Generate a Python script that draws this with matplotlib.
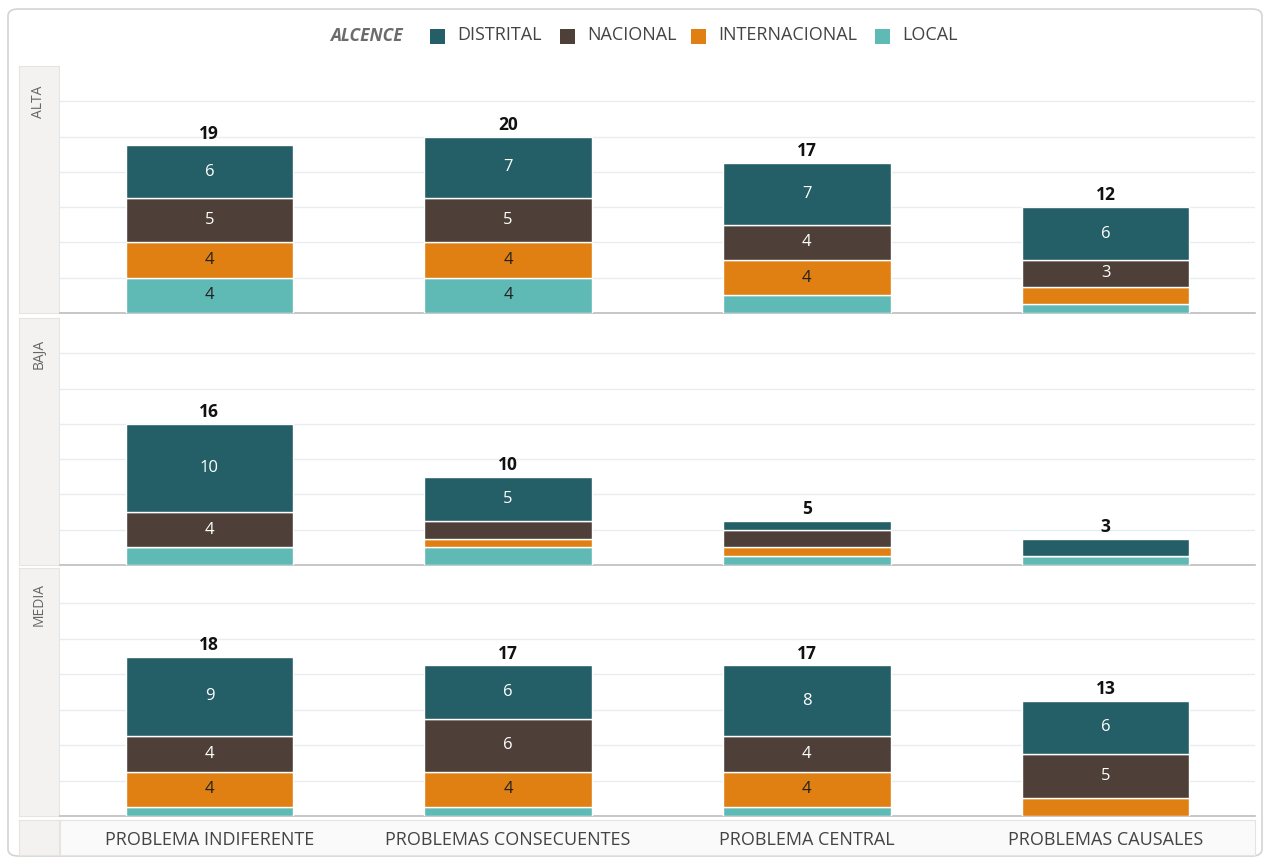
import matplotlib
matplotlib.use("Agg")
import matplotlib.pyplot as plt
from matplotlib.patches import FancyBboxPatch, Rectangle
import numpy as np

plt.rcParams['font.family'] = ['Open Sans', 'DejaVu Sans']

categories = ["PROBLEMA INDIFERENTE", "PROBLEMAS CONSECUENTES", "PROBLEMA CENTRAL", "PROBLEMAS CAUSALES"]
panels = ["ALTA", "BAJA", "MEDIA"]
series = ["LOCAL", "INTERNACIONAL", "NACIONAL", "DISTRITAL"]  # bottom to top
legend_order = ["DISTRITAL", "NACIONAL", "INTERNACIONAL", "LOCAL"]
colors = {"DISTRITAL": "#245e66", "NACIONAL": "#4e4038", "INTERNACIONAL": "#e07f12", "LOCAL": "#5fb9b5"}
label_colors = {"DISTRITAL": "white", "NACIONAL": "white", "INTERNACIONAL": "#222222", "LOCAL": "#222222"}

alta_local = [4, 4, 2, 1]
alta_internacional = [4, 4, 4, 2]
alta_nacional = [5, 5, 4, 3]
alta_distrital = [6, 7, 7, 6]

baja_local = [2, 2, 1, 1]
baja_internacional = [0, 1, 1, 0]
baja_nacional = [4, 2, 2, 0]
baja_distrital = [10, 5, 1, 2]

media_local = [1, 1, 1, 0]
media_internacional = [4, 4, 4, 2]
media_nacional = [4, 6, 4, 5]
media_distrital = [9, 6, 8, 6]

data = {
    "ALTA": {"LOCAL": alta_local, "INTERNACIONAL": alta_internacional, "NACIONAL": alta_nacional, "DISTRITAL": alta_distrital},
    "BAJA": {"LOCAL": baja_local, "INTERNACIONAL": baja_internacional, "NACIONAL": baja_nacional, "DISTRITAL": baja_distrital},
    "MEDIA": {"LOCAL": media_local, "INTERNACIONAL": media_internacional, "NACIONAL": media_nacional, "DISTRITAL": media_distrital},
}

W, H = 1265, 858
fig = plt.figure(figsize=(W / 100, H / 100), dpi=100, facecolor="white")

def fx(px):
    return px / W

def fy(py):
    return 1 - py / H

# outer rounded frame
frame = FancyBboxPatch((fx(8), fy(856)), fx(1262) - fx(8), fy(9) - fy(856),
                       boxstyle="round,pad=0,rounding_size=0.008", transform=fig.transFigure,
                       facecolor="none", edgecolor="#d6d4d2", linewidth=1.2, zorder=-10)
fig.patches.append(frame)

# legend
fig.text(fx(403), fy(36), "ALCENCE", ha="right", va="center", fontsize=12.5, fontweight="bold",
         fontstyle="italic", color="#6b6b6b")
legend_x = [430, 560, 691, 875]
for name, x0 in zip(legend_order, legend_x):
    fig.patches.append(Rectangle((fx(x0), fy(44)), fx(15), fy(29) - fy(44), transform=fig.transFigure,
                                 facecolor=colors[name], edgecolor="none"))
    fig.text(fx(x0 + 27), fy(35), name, ha="left", va="center", fontsize=13, color="#444444")

panel_rows = [(66, 313), (318, 565), (568, 816)]
plot_left, plot_right = 60, 1255
x = np.arange(len(categories))
bar_w = 0.56
ymax = 28

for pname, (top, bot) in zip(panels, panel_rows):
    # strip
    sax = fig.add_axes([fx(19), fy(bot), fx(59) - fx(19), fy(top) - fy(bot)])
    sax.set_facecolor("#f3f2f1")
    sax.set_xticks([]); sax.set_yticks([])
    for s in sax.spines.values():
        s.set_color("#e6e4e2")
    sax.text(0.5, 1 - 36 / (bot - top), pname, rotation=90, ha="center", va="center",
             transform=sax.transAxes, fontsize=10, color="#666666")

    ax = fig.add_axes([fx(plot_left), fy(bot), fx(plot_right) - fx(plot_left), fy(top) - fy(bot)])
    ax.set_xlim(-0.5, len(categories) - 0.5)
    ax.set_ylim(0, ymax)
    ax.set_yticks(np.arange(0, ymax, 4))
    ax.yaxis.grid(True, color="#e9edf0", linewidth=1)
    ax.set_axisbelow(True)
    ax.tick_params(left=False, bottom=False, labelleft=False, labelbottom=False)
    for k in ["top", "right", "left"]:
        ax.spines[k].set_visible(False)
    ax.spines["bottom"].set_color("#bdbdbd")
    ax.spines["bottom"].set_linewidth(1.2)

    bottom = np.zeros(len(categories))
    for sname in series:
        vals = np.array(data[pname][sname], dtype=float)
        ax.bar(x, vals, bar_w, bottom=bottom, color=colors[sname], edgecolor="white", linewidth=1.0, zorder=3)
        for i, v in enumerate(vals):
            if v >= 3:
                ax.text(x[i], bottom[i] + v / 2, f"{int(v)}", ha="center", va="center",
                        fontsize=12, color=label_colors[sname], zorder=4)
        bottom += vals
    for i, t in enumerate(bottom):
        ax.text(x[i], t + 0.3, f"{int(t)}", ha="center", va="bottom", fontsize=12.5,
                fontweight="bold", color="#111111", zorder=4)

# x-axis label band
bax = fig.add_axes([fx(plot_left), fy(855), fx(plot_right) - fx(plot_left), fy(820) - fy(855)])
bax.set_facecolor("#fafafa")
bax.set_xlim(-0.5, len(categories) - 0.5)
bax.set_ylim(0, 1)
bax.set_yticks([])
bax.set_xticks(x)
bax.set_xticklabels([])
bax.tick_params(bottom=False)
for s in bax.spines.values():
    s.set_color("#e6e4e2")
for i, c in enumerate(categories):
    bax.text(x[i], 0.42, c, ha="center", va="center", fontsize=13, color="#444444")

cax = fig.add_axes([fx(19), fy(855), fx(59) - fx(19), fy(820) - fy(855)])
cax.set_facecolor("#f3f2f1")
cax.set_xticks([]); cax.set_yticks([])
for s in cax.spines.values():
    s.set_color("#e6e4e2")

fig.savefig("out.png", dpi=100)
